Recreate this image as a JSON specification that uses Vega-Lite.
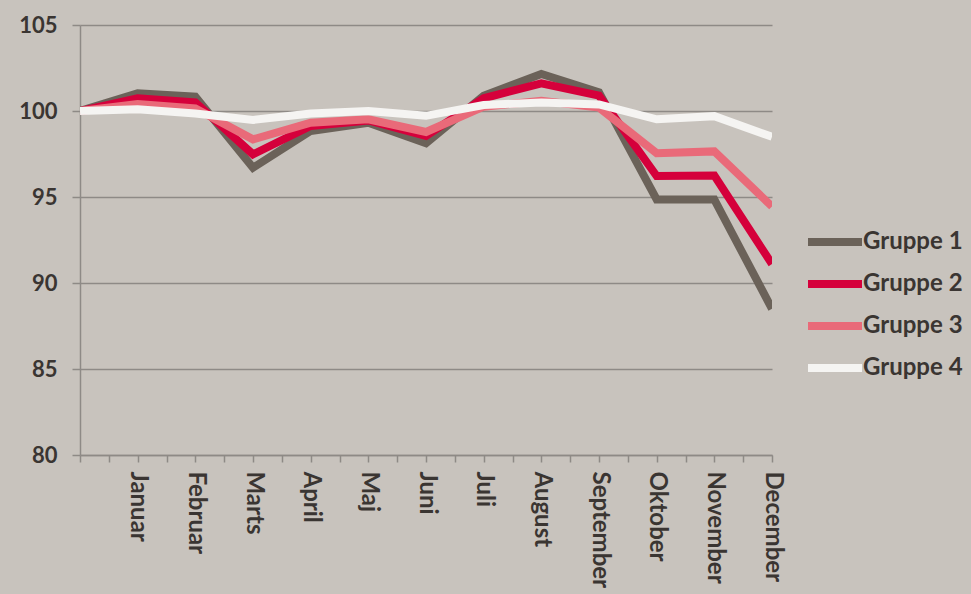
{
  "$schema": "https://vega.github.io/schema/vega-lite/v6.json",
  "width": 692,
  "height": 430,
  "autosize": {"type": "none"},
  "padding": {"left": 80, "top": 25, "right": 199, "bottom": 139},
  "background": "#c8c3bd",
  "config": {
    "view": {"stroke": null},
    "font": "Lato"
  },
  "data": {
    "values": [
      {"idx": 0, "month": "", "group": "Gruppe 1", "value": 100},
      {"idx": 1, "month": "Januar", "group": "Gruppe 1", "value": 101.03},
      {"idx": 2, "month": "Februar", "group": "Gruppe 1", "value": 100.83},
      {"idx": 3, "month": "Marts", "group": "Gruppe 1", "value": 96.7},
      {"idx": 4, "month": "April", "group": "Gruppe 1", "value": 98.84},
      {"idx": 5, "month": "Maj", "group": "Gruppe 1", "value": 99.32},
      {"idx": 6, "month": "Juni", "group": "Gruppe 1", "value": 98.12},
      {"idx": 7, "month": "Juli", "group": "Gruppe 1", "value": 100.89},
      {"idx": 8, "month": "August", "group": "Gruppe 1", "value": 102.15},
      {"idx": 9, "month": "September", "group": "Gruppe 1", "value": 101.09},
      {"idx": 10, "month": "Oktober", "group": "Gruppe 1", "value": 94.86},
      {"idx": 11, "month": "November", "group": "Gruppe 1", "value": 94.85},
      {"idx": 12, "month": "December", "group": "Gruppe 1", "value": 88.5},
      {"idx": 0, "month": "", "group": "Gruppe 2", "value": 100},
      {"idx": 1, "month": "Januar", "group": "Gruppe 2", "value": 100.74},
      {"idx": 2, "month": "Februar", "group": "Gruppe 2", "value": 100.5},
      {"idx": 3, "month": "Marts", "group": "Gruppe 2", "value": 97.48},
      {"idx": 4, "month": "April", "group": "Gruppe 2", "value": 99.13},
      {"idx": 5, "month": "Maj", "group": "Gruppe 2", "value": 99.45},
      {"idx": 6, "month": "Juni", "group": "Gruppe 2", "value": 98.55},
      {"idx": 7, "month": "Juli", "group": "Gruppe 2", "value": 100.74},
      {"idx": 8, "month": "August", "group": "Gruppe 2", "value": 101.61},
      {"idx": 9, "month": "September", "group": "Gruppe 2", "value": 100.89},
      {"idx": 10, "month": "Oktober", "group": "Gruppe 2", "value": 96.22},
      {"idx": 11, "month": "November", "group": "Gruppe 2", "value": 96.25},
      {"idx": 12, "month": "December", "group": "Gruppe 2", "value": 91.1},
      {"idx": 0, "month": "", "group": "Gruppe 3", "value": 100},
      {"idx": 1, "month": "Januar", "group": "Gruppe 3", "value": 100.4},
      {"idx": 2, "month": "Februar", "group": "Gruppe 3", "value": 100.15},
      {"idx": 3, "month": "Marts", "group": "Gruppe 3", "value": 98.35},
      {"idx": 4, "month": "April", "group": "Gruppe 3", "value": 99.32},
      {"idx": 5, "month": "Maj", "group": "Gruppe 3", "value": 99.52},
      {"idx": 6, "month": "Juni", "group": "Gruppe 3", "value": 98.78},
      {"idx": 7, "month": "Juli", "group": "Gruppe 3", "value": 100.25},
      {"idx": 8, "month": "August", "group": "Gruppe 3", "value": 100.6},
      {"idx": 9, "month": "September", "group": "Gruppe 3", "value": 100.2},
      {"idx": 10, "month": "Oktober", "group": "Gruppe 3", "value": 97.55},
      {"idx": 11, "month": "November", "group": "Gruppe 3", "value": 97.65},
      {"idx": 12, "month": "December", "group": "Gruppe 3", "value": 94.45},
      {"idx": 0, "month": "", "group": "Gruppe 4", "value": 100},
      {"idx": 1, "month": "Januar", "group": "Gruppe 4", "value": 100.1},
      {"idx": 2, "month": "Februar", "group": "Gruppe 4", "value": 99.85},
      {"idx": 3, "month": "Marts", "group": "Gruppe 4", "value": 99.48},
      {"idx": 4, "month": "April", "group": "Gruppe 4", "value": 99.85},
      {"idx": 5, "month": "Maj", "group": "Gruppe 4", "value": 100.0},
      {"idx": 6, "month": "Juni", "group": "Gruppe 4", "value": 99.72},
      {"idx": 7, "month": "Juli", "group": "Gruppe 4", "value": 100.35},
      {"idx": 8, "month": "August", "group": "Gruppe 4", "value": 100.5},
      {"idx": 9, "month": "September", "group": "Gruppe 4", "value": 100.38},
      {"idx": 10, "month": "Oktober", "group": "Gruppe 4", "value": 99.52},
      {"idx": 11, "month": "November", "group": "Gruppe 4", "value": 99.7},
      {"idx": 12, "month": "December", "group": "Gruppe 4", "value": 98.5}
    ]
  },
  "mark": {"type": "line", "strokeWidth": 8, "clip": true, "strokeJoin": "miter"},
  "encoding": {
    "x": {
      "field": "idx",
      "type": "quantitative",
      "scale": {"domain": [0, 12], "nice": false, "zero": false},
      "axis": {
        "title": null,
        "grid": false,
        "values": [0, 0.5, 1, 1.5, 2, 2.5, 3, 3.5, 4, 4.5, 5, 5.5, 6, 6.5, 7, 7.5, 8, 8.5, 9, 9.5, 10, 10.5, 11, 11.5, 12],
        "labelExpr": "['','Januar','Februar','Marts','April','Maj','Juni','Juli','August','September','Oktober','November','December'][datum.value] || ''",
        "labelAngle": 90,
        "labelFlush": false,
        "labelOverlap": false,
        "labelBound": false,
        "labelFont": "Lato",
        "labelFontWeight": "bold",
        "labelFontSize": 24,
        "labelColor": "#3a3532",
        "labelPadding": 9,
        "domainColor": "#8e8a86",
        "domainWidth": 1.5,
        "tickColor": "#8e8a86",
        "tickWidth": 1.5,
        "tickSize": 7
      }
    },
    "y": {
      "field": "value",
      "type": "quantitative",
      "scale": {"domain": [80, 105], "nice": false, "zero": false},
      "axis": {
        "title": null,
        "values": [80, 85, 90, 95, 100, 105],
        "grid": true,
        "gridColor": "#8e8a86",
        "gridWidth": 1.5,
        "domainColor": "#8e8a86",
        "domainWidth": 1.5,
        "tickColor": "#8e8a86",
        "tickWidth": 1.5,
        "tickSize": 8,
        "labelFont": "Lato",
        "labelFontWeight": "bold",
        "labelFontSize": 22,
        "labelColor": "#3a3532",
        "labelPadding": 15
      }
    },
    "color": {
      "field": "group",
      "type": "nominal",
      "scale": {
        "domain": ["Gruppe 1", "Gruppe 2", "Gruppe 3", "Gruppe 4"],
        "range": ["#6b6259", "#d5003b", "#e96a79", "#f5f4f2"]
      },
      "legend": {
        "title": null,
        "orient": "none",
        "legendX": 724,
        "legendY": 196,
        "symbolType": "stroke",
        "symbolSize": 2916,
        "symbolStrokeWidth": 8,
        "symbolOpacity": 1,
        "labelFont": "Lato",
        "labelFontWeight": "bold",
        "labelFontSize": 24,
        "labelColor": "#3a3532",
        "labelOffset": -3,
        "clipHeight": 42,
        "rowPadding": 0,
        "encode": {"symbols": {"update": {"strokeCap": {"value": "butt"}}}}
      }
    }
  }
}
